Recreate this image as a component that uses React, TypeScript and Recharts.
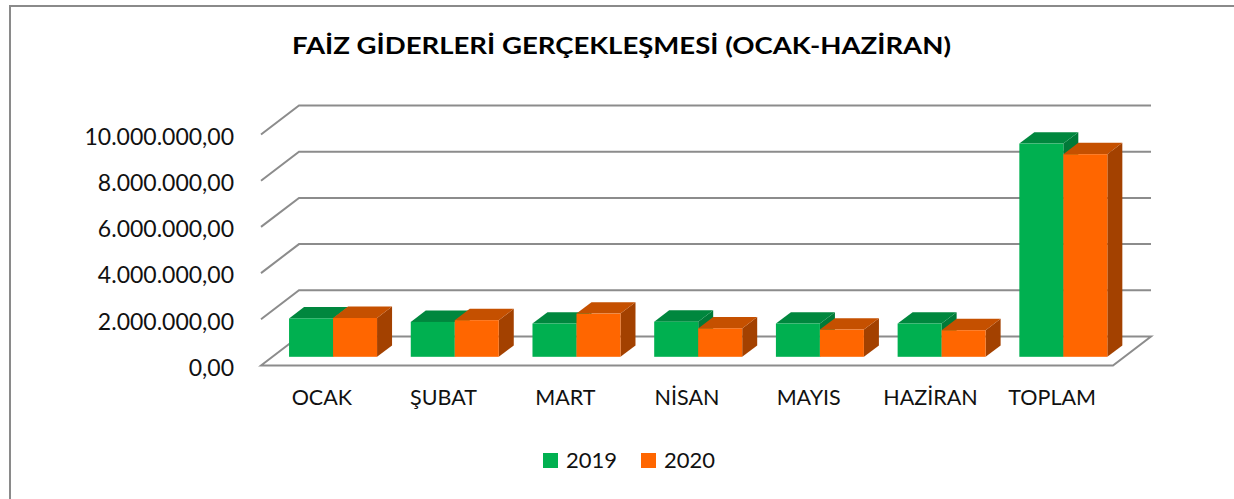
import { BarChart, Bar, XAxis, YAxis, CartesianGrid, Legend } from "recharts";

const months = ["OCAK", "ŞUBAT", "MART", "NİSAN", "MAYIS", "HAZİRAN", "TOPLAM"];
const values2019 = [1660000, 1510000, 1440000, 1520000, 1440000, 1440000, 9230000];
const values2020 = [1680000, 1585000, 1870000, 1230000, 1180000, 1150000, 8770000];
const yTicks = [0, 2000000, 4000000, 6000000, 8000000, 10000000];

const chartData = months.map((name, i) => ({
  name,
  y2019: values2019[i],
  y2020: values2020[i],
}));

const FONT = "Lato, 'Open Sans', sans-serif";

// depth of the whole floor, and of one bar, in px (oblique 3d look)
const DEPTH_X = 38;
const DEPTH_Y = 29;
const BAR_SHIFT_X = 11.5;
const BAR_SHIFT_Y = 8.7;
const BAR_DEPTH_X = 15;
const BAR_DEPTH_Y = 11.4;

function formatTick(v: number): string {
  const int = String(Math.round(v)).replace(/\B(?=(\d{3})+(?!\d))/g, ".");
  return `${int},00`;
}

function GridLine3D(p: any) {
  const { x1, y1, x2, y2 } = p;
  const pts: number[] = p.horizontalPoints ?? [];
  const floorY = pts.length ? Math.max(...pts) : p.y + p.height;
  const common = {
    fill: "none",
    stroke: "#8c8c8c",
    strokeWidth: 2,
    strokeLinejoin: "miter" as const,
  };
  if (Math.abs(y1 - floorY) < 0.5) {
    return (
      <polygon
        key={`g-${p.index}`}
        points={`${x1},${y1} ${x1 + DEPTH_X},${y1 - DEPTH_Y} ${x2 + DEPTH_X},${y2 - DEPTH_Y} ${x2},${y2}`}
        {...common}
      />
    );
  }
  return (
    <polyline
      key={`g-${p.index}`}
      points={`${x1},${y1} ${x1 + DEPTH_X},${y1 - DEPTH_Y} ${x2 + DEPTH_X},${y2 - DEPTH_Y}`}
      {...common}
    />
  );
}

function Box3D(props: any) {
  const { x, y, width, height, face, top, side } = props;
  if (!height || height <= 0) return null;
  const fx = x + BAR_SHIFT_X;
  const fy = y - BAR_SHIFT_Y;
  const r = fx + width;
  const b = fy + height;
  return (
    <g>
      <polygon
        points={`${r},${fy} ${r + BAR_DEPTH_X},${fy - BAR_DEPTH_Y} ${r + BAR_DEPTH_X},${b - BAR_DEPTH_Y} ${r},${b}`}
        fill={side}
      />
      <polygon
        points={`${fx},${fy} ${fx + BAR_DEPTH_X},${fy - BAR_DEPTH_Y} ${r + BAR_DEPTH_X},${fy - BAR_DEPTH_Y} ${r},${fy}`}
        fill={top}
      />
      <rect x={fx} y={fy} width={width} height={height} fill={face} />
    </g>
  );
}

function YTick({ x, y, payload }: any) {
  return (
    <text
      x={x}
      y={y + 2}
      dy="0.36em"
      textAnchor="end"
      fontFamily={FONT}
      fontSize={23}
      fill="#111"
    >
      {formatTick(payload.value)}
    </text>
  );
}

function XTick({ x, y, payload }: any) {
  return (
    <text
      x={x}
      y={y}
      dy="0.72em"
      textAnchor="middle"
      fontFamily={FONT}
      fontSize={21.5}
      fill="#111"
    >
      {payload.value}
    </text>
  );
}

function LegendContent({ payload }: any) {
  return (
    <div style={{ display: "flex", alignItems: "center", fontFamily: FONT }}>
      {(payload ?? []).map((entry: any) => (
        <span
          key={entry.value}
          style={{ display: "inline-flex", alignItems: "center", marginRight: 24 }}
        >
          <span
            style={{ width: 15, height: 15, background: entry.color, display: "inline-block" }}
          />
          <span style={{ marginLeft: 8, fontSize: 22, lineHeight: "28px", color: "#111" }}>
            {entry.value}
          </span>
        </span>
      ))}
    </div>
  );
}

export default function App() {
  return (
    <div
      style={{
        position: "fixed",
        left: 0,
        top: 0,
        width: 1234,
        height: 499,
        overflow: "hidden",
        background: "#fff",
      }}
    >
      <div
        style={{
          position: "absolute",
          left: 9,
          top: 5,
          width: 1400,
          height: 700,
          borderLeft: "2px solid #8a8a8a",
          borderTop: "2px solid #8a8a8a",
        }}
      />
      <svg
        width={1234}
        height={80}
        style={{ position: "absolute", left: 0, top: 0 }}
      >
        <text
          x={621.5}
          y={53.5}
          textAnchor="middle"
          fontFamily={FONT}
          fontWeight={700}
          fontSize={22.5}
          textLength={659}
          lengthAdjust="spacingAndGlyphs"
          fill="#000"
        >
          FAİZ GİDERLERİ GERÇEKLEŞMESİ (OCAK-HAZİRAN)
        </text>
      </svg>
      <div style={{ position: "absolute", left: 0, top: 0 }}>
        <BarChart
          width={1234}
          height={499}
          data={chartData}
          margin={{ top: 134.5, right: 121, bottom: 0, left: 0 }}
          barCategoryGap="13.6%"
          barGap={0}
        >
          <CartesianGrid vertical={false} horizontal={GridLine3D} />
          <XAxis
            dataKey="name"
            height={133.5}
            tickLine={false}
            axisLine={false}
            tickMargin={18.5}
            interval={0}
            tick={<XTick />}
          />
          <YAxis
            width={261}
            domain={[0, 10000000]}
            ticks={yTicks}
            tickLine={false}
            axisLine={false}
            tickMargin={21}
            tick={<YTick />}
          />
          <Legend
            layout="horizontal"
            verticalAlign="middle"
            align="center"
            content={<LegendContent />}
            wrapperStyle={{ left: 543, top: 446, width: "auto" }}
          />
          <Bar
            dataKey="y2019"
            name="2019"
            fill="#00B050"
            isAnimationActive={false}
            shape={(p: any) => <Box3D {...p} face="#00B050" top="#00873E" side="#007A38" />}
          />
          <Bar
            dataKey="y2020"
            name="2020"
            fill="#FF6600"
            isAnimationActive={false}
            shape={(p: any) => <Box3D {...p} face="#FF6600" top="#C55000" side="#A34100" />}
          />
        </BarChart>
      </div>
    </div>
  );
}
